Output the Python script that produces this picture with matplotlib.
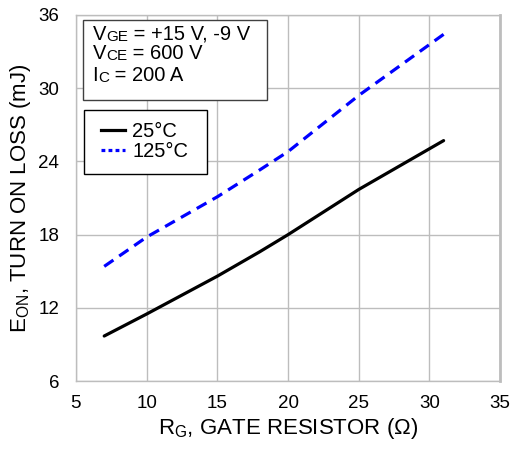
import matplotlib
matplotlib.use('Agg')
import matplotlib.pyplot as plt
from matplotlib.lines import Line2D
from matplotlib.patches import Rectangle

plt.rcParams['font.family'] = ['Liberation Sans', 'DejaVu Sans']

# data
rg = [7, 10, 15, 18, 20, 25, 31]
eon_25 = [9.7, 11.5, 14.6, 16.6, 18.0, 21.7, 25.7]
eon_125 = [15.4, 17.8, 21.1, 23.3, 24.8, 29.4, 34.4]

xticks = [5, 10, 15, 20, 25, 30, 35]
yticks = [6, 12, 18, 24, 30, 36]

fig = plt.figure(figsize=(5.13, 4.49), dpi=100)
ax = fig.add_axes([0.148, 0.151, 0.827, 0.816])

ax.plot(rg, eon_25, color='black', lw=2.3, solid_capstyle='round')
ax.plot(rg, eon_125, color='#0000ff', lw=2.3, dashes=(3.5, 2.2))

ax.set_xlim(5, 35)
ax.set_ylim(6, 36)
ax.set_xticks(xticks)
ax.set_yticks(yticks)
ax.tick_params(length=0, labelsize=13.5, colors='black')
ax.tick_params(axis='y', pad=12)
ax.tick_params(axis='x', pad=10)
ax.grid(True, color='#bdbdbd', lw=1)
for s in ax.spines.values():
    s.set_color('#bdbdbd')
    s.set_linewidth(1)
ax.spines['right'].set_linewidth(2)

ax.set_xlabel('R$_\\mathregular{G}$, GATE RESISTOR (Ω)', fontsize=16, labelpad=3)
ax.set_ylabel('E$_\\mathregular{ON}$, TURN ON LOSS (mJ)', fontsize=16, labelpad=4)

# conditions box
ax.add_patch(Rectangle((0.0165, 0.768), 0.434, 0.218, transform=ax.transAxes,
                       facecolor='white', edgecolor='#404040', lw=1, zorder=5))
cond = [('V', 'GE', ' = +15 V, -9 V', 0.932),
        ('V', 'CE', ' = 600 V', 0.879),
        ('I', 'C', ' = 200 A', 0.820)]
for big, small, rest, yy in cond:
    t1 = ax.text(0.039, yy, big, transform=ax.transAxes, fontsize=14.5,
                 va='baseline', zorder=6)
    t2 = ax.annotate(small, xy=(1, 0), xycoords=t1, fontsize=11,
                     va='bottom', zorder=6)
    ax.annotate(rest, xy=(1, 0), xycoords=t2, fontsize=14.5,
                va='bottom', zorder=6)

# legend frame drawn separately so its size matches the original
ax.add_patch(Rectangle((0.019, 0.566), 0.29, 0.175, transform=ax.transAxes,
                       facecolor='white', edgecolor='black', lw=1, zorder=5))
handles = [Line2D([], [], color='black', lw=2.3),
           Line2D([], [], color='#0000ff', lw=2.3, dashes=(1.2, 1.0))]
leg = ax.legend(handles, ['25°C', '125°C'], loc='upper left',
                bbox_to_anchor=(0.059, 0.707), fontsize=14.5, frameon=False,
                handlelength=1.2, handletextpad=0.35,
                labelspacing=0.05, borderpad=0, borderaxespad=0)
leg.set_zorder(6)

fig.savefig('out.png', dpi=100)
